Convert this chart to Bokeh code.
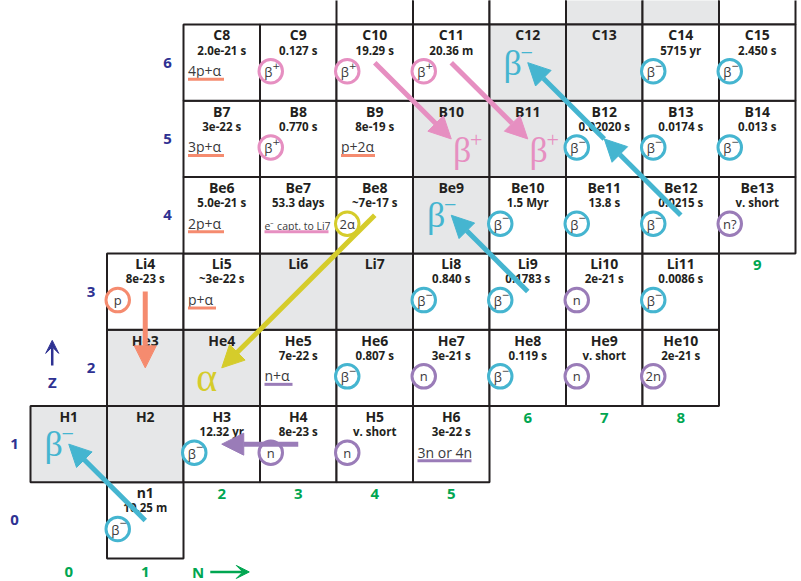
from bokeh.plotting import figure
from bokeh.models import Range1d, Arrow, NormalHead, VeeHead, ColumnDataSource
from bokeh.core.properties import value
from bokeh.embed import file_html
from bokeh.resources import INLINE

# ---------------- data ----------------
names = ["n1", "H1", "H2", "H3", "H4", "H5", "H6",
         "He3", "He4", "He5", "He6", "He7", "He8", "He9", "He10",
         "Li4", "Li5", "Li6", "Li7", "Li8", "Li9", "Li10", "Li11",
         "Be6", "Be7", "Be8", "Be9", "Be10", "Be11", "Be12", "Be13",
         "B7", "B8", "B9", "B10", "B11", "B12", "B13", "B14",
         "C8", "C9", "C10", "C11", "C12", "C13", "C14", "C15"]
neutrons = [1, 0, 1, 2, 3, 4, 5,
            1, 2, 3, 4, 5, 6, 7, 8,
            1, 2, 3, 4, 5, 6, 7, 8,
            2, 3, 4, 5, 6, 7, 8, 9,
            2, 3, 4, 5, 6, 7, 8, 9,
            2, 3, 4, 5, 6, 7, 8, 9]
protons = [0, 1, 1, 1, 1, 1, 1,
           2, 2, 2, 2, 2, 2, 2, 2,
           3, 3, 3, 3, 3, 3, 3, 3,
           4, 4, 4, 4, 4, 4, 4, 4,
           5, 5, 5, 5, 5, 5, 5, 5,
           6, 6, 6, 6, 6, 6, 6, 6]
half_lives = ["10.25 m", "", "", "12.32 yr", "8e-23 s", "v. short", "3e-22 s",
              "", "", "7e-22 s", "0.807 s", "3e-21 s", "0.119 s", "v. short", "2e-21 s",
              "8e-23 s", "~3e-22 s", "", "", "0.840 s", "0.1783 s", "2e-21 s", "0.0086 s",
              "5.0e-21 s", "53.3 days", "~7e-17 s", "", "1.5 Myr", "13.8 s", "0.0215 s", "v. short",
              "3e-22 s", "0.770 s", "8e-19 s", "", "", "0.02020 s", "0.0174 s", "0.013 s",
              "2.0e-21 s", "0.127 s", "19.29 s", "20.36 m", "", "", "5715 yr", "2.450 s"]
decays = ["β-", "", "", "β-", "n", "n", "3n or 4n",
          "", "", "n+α", "β-", "n", "β-", "n", "2n",
          "p", "p+α", "", "", "β-", "β-", "n", "β-",
          "2p+α", "e⁻ capt. to Li7", "2α", "", "β-", "β-", "β-", "n?",
          "3p+α", "β+", "p+2α", "", "", "β-", "β-", "β-",
          "4p+α", "β+", "β+", "β+", "", "", "β-", "β-"]
stable_names = ["H1", "H2", "He3", "He4", "Li6", "Li7", "Be9", "B10", "B11", "C12", "C13"]

# partly visible nitrogen row (Z = 7)
row7_names = ["N11", "N12", "N13", "N14", "N15", "N16"]
row7_neutrons = [4, 5, 6, 7, 8, 9]
row7_stable = ["N14", "N15"]

# decay arrows: parent -> daughter
arrow_from = ["n1", "H4", "Li4", "Be8", "Li9", "Be12", "B12", "C10", "C11"]
arrow_to = ["H1", "H3", "He3", "He4", "Be9", "B12", "C12", "B10", "B11"]
arrow_mode = ["β-", "n", "p", "α", "β-", "β-", "β-", "β+", "β+"]

# large decay symbols in stable daughters
big_at = ["H1", "He4", "Be9", "B10", "B11", "C12"]
big_mode = ["β-", "α", "β-", "β+", "β+", "β-"]

# axis labels
z_values = [0, 1, 2, 3, 4, 5, 6]
z_label_first_n = [0, 0, 1, 1, 2, 2, 2]
n_values = [0, 1, 2, 3, 4, 5, 6, 7, 8, 9]
n_label_lowest_z = [0, 0, 1, 1, 1, 1, 2, 2, 2, 4]

# ---------------- style ----------------
BLUE = "#45b5d0"
PINK = "#e68fc1"
SALMON = "#f58b6f"
PURPLE = "#9a7cb8"
YELLOW = "#d5cc2b"
GRAY = "#e6e7e8"
INK = "#231f20"
NAVY = "#2e3192"
GREEN = "#00a651"
FONT = "Open Sans"
SERIF = "Liberation Serif"

MODE_COLOR = {"β-": BLUE, "β+": PINK, "n": PURPLE, "2n": PURPLE, "n?": PURPLE,
              "p": SALMON, "2α": YELLOW, "α": YELLOW}
UL_COLOR = {"4p+α": SALMON, "3p+α": SALMON, "2p+α": SALMON, "p+2α": SALMON, "p+α": SALMON,
            "n+α": PURPLE, "3n or 4n": PURPLE, "e⁻ capt. to Li7": PINK}
UL_WIDTH = {"4p+α": 36, "3p+α": 36, "2p+α": 36, "p+2α": 34, "p+α": 28,
            "n+α": 28, "3n or 4n": 54, "e⁻ capt. to Li7": 64}
UL_FONT = {"e⁻ capt. to Li7": "10.5px"}
UL_DY = {"e⁻ capt. to Li7": 10.5}
BIG_OFF = {"β-": (-15, 0), "β+": (11, 11), "α": (-15, 10)}

W, H = 801, 581
UX, UY = 76.5, 76.3           # pixels per unit of N and Z
X0_PX, Y0_PX = 68.25, 519.95  # pixel position of (N=0, Z=0)
x_start = -X0_PX / UX
y_top = Y0_PX / UY

p = figure(width=W, height=H,
           x_range=Range1d(x_start, x_start + W / UX),
           y_range=Range1d(y_top - H / UY, y_top),
           x_axis_type=None, y_axis_type=None,
           toolbar_location=None, output_backend="svg",
           min_border=0, outline_line_color=None)
p.background_fill_color = "white"
p.border_fill_color = "white"

# ---- cells ----
p.rect(x=row7_neutrons, y=[7] * len(row7_neutrons), width=1, height=1,
       fill_color=[GRAY if nm in row7_stable else "white" for nm in row7_names],
       line_color=INK, line_width=2)
src = ColumnDataSource(dict(
    x=neutrons, y=protons, name=names, hl=half_lives,
    fill=[GRAY if nm in stable_names else "white" for nm in names]))
p.rect(x="x", y="y", width=1, height=1, fill_color="fill", line_color=INK,
       line_width=2, source=src)

p.text(x="x", y="y", text="name", source=src, y_offset=-27.8,
       text_align="center", text_baseline="middle",
       text_font=value(FONT), text_font_size="14px", text_font_style="bold",
       text_color=INK)
p.text(x="x", y="y", text="hl", source=src, y_offset=-12.6,
       text_align="center", text_baseline="middle",
       text_font=value(FONT), text_font_size="11.5px", text_font_style="bold",
       text_color=INK)

# ---- circled decay modes ----
cx, cy, ctxt, ccol, sx, sy, stxt = [], [], [], [], [], [], []
for n, z, d in zip(neutrons, protons, decays):
    if d in MODE_COLOR:
        cx.append(n - 27.5 / UX)
        cy.append(z - 8.5 / UY)
        ccol.append(MODE_COLOR[d])
        if d in ("β-", "β+"):
            ctxt.append("β")
            sx.append(n - 27.5 / UX)
            sy.append(z - 8.5 / UY)
            stxt.append("−" if d == "β-" else "+")
        else:
            ctxt.append(d)
p.scatter(x=cx, y=cy, marker="circle", size=23.5, fill_color="white",
          line_color=ccol, line_width=3)
beta_idx = [i for i, t in enumerate(ctxt) if t == "β"]
other_idx = [i for i, t in enumerate(ctxt) if t != "β"]
p.text(x=[cx[i] for i in beta_idx], y=[cy[i] for i in beta_idx], text=["β"] * len(beta_idx),
       x_offset=-2.5, y_offset=1, text_align="center", text_baseline="middle",
       text_font=value(FONT), text_font_size="13px", text_color="#3a3a3c")
p.text(x=sx, y=sy, text=stxt, x_offset=5.5, y_offset=-6, text_align="center",
       text_baseline="middle", text_font=value("DejaVu Sans"), text_font_size="9.5px",
       text_color="#3a3a3c")
p.text(x=[cx[i] for i in other_idx], y=[cy[i] for i in other_idx],
       text=[ctxt[i] for i in other_idx], text_align="center", text_baseline="middle",
       text_font=value(FONT), text_font_size="13px", text_color="#3a3a3c")

# ---- underlined decay descriptions ----
ux, uy, utxt, ucol, ufs, udy, rx, rw = [], [], [], [], [], [], [], []
for n, z, d in zip(neutrons, protons, decays):
    if d in UL_COLOR:
        ux.append(n - 0.5)
        uy.append(z)
        utxt.append(d)
        ucol.append(UL_COLOR[d])
        ufs.append(UL_FONT.get(d, "14px"))
        udy.append(UL_DY.get(d, 8.0))
        rx.append(n - 0.5 + (4.5 + UL_WIDTH[d] / 2) / UX)
        rw.append(UL_WIDTH[d])
p.text(x=ux, y=uy, text=utxt, x_offset=4.5, y_offset=udy, text_align="left",
       text_baseline="middle", text_font=value(FONT), text_font_size=ufs,
       text_color="#3a3a3c")
p.rect(x=rx, y=[z - 16.5 / UY for z in uy], width=rw, height=3,
       width_units="screen", height_units="screen", fill_color=ucol, line_color=None)

# ---- large symbols in stable daughters ----
pos = {nm: (n, z) for nm, n, z in zip(names, neutrons, protons)}
for nm, m in zip(big_at, big_mode):
    n, z = pos[nm]
    ox, oy = BIG_OFF[m]
    c = MODE_COLOR[m]
    glyph = "β" if m in ("β-", "β+") else "α"
    p.text(x=[n], y=[z], text=[glyph], x_offset=ox, y_offset=oy,
           text_align="center", text_baseline="middle", text_font=value(SERIF),
           text_font_size="36px" if glyph == "β" else "40px", text_color=c)
    if glyph == "β":
        p.text(x=[n], y=[z], text=["−" if m == "β-" else "+"],
               x_offset=ox + 14, y_offset=oy - 10, text_align="center",
               text_baseline="middle", text_font=value(SERIF),
               text_font_size="22px", text_color=c)

# ---- axis numbers ----
p.text(x=[fn - 0.5 for fn in z_label_first_n], y=z_values, text=[str(z) for z in z_values],
       x_offset=-16, text_align="center", text_baseline="middle",
       text_font=value(FONT), text_font_size="15px", text_font_style="bold",
       text_color=NAVY)
p.text(x=n_values, y=[lz - 0.5 for lz in n_label_lowest_z], text=[str(n) for n in n_values],
       y_offset=[13 if lz == 0 else 12 for lz in n_label_lowest_z],
       text_align="center", text_baseline="middle",
       text_font=value(FONT), text_font_size="15px", text_font_style="bold",
       text_color=GREEN)

# ---- Z and N direction markers ----
p.text(x=[-0.216], y=[1.812], text=["Z"], text_align="center", text_baseline="middle",
       text_font=value(FONT), text_font_size="15px", text_font_style="bold", text_color=NAVY)
p.add_layout(Arrow(x_start=-0.216, y_start=2.03, x_end=-0.216, y_end=2.36,
                   line_color=NAVY, line_width=2.5,
                   end=VeeHead(size=13, fill_color=NAVY, line_color=NAVY)))
p.text(x=[1.692], y=[-0.675], text=["N"], text_align="center", text_baseline="middle",
       text_font=value(FONT), text_font_size="15px", text_font_style="bold", text_color=GREEN)
p.add_layout(Arrow(x_start=1.85, y_start=-0.675, x_end=2.36, y_end=-0.675,
                   line_color=GREEN, line_width=2.5,
                   end=VeeHead(size=13, fill_color=GREEN, line_color=GREEN)))

# ---- decay arrows ----
for a, b, m in zip(arrow_from, arrow_to, arrow_mode):
    c = MODE_COLOR[m]
    (x0, y0), (x1, y1) = pos[a], pos[b]
    p.add_layout(Arrow(x_start=x0, y_start=y0, x_end=x1, y_end=y1,
                       line_color=c, line_width=5,
                       end=NormalHead(size=22, fill_color=c, line_color=c, line_width=1)))

open("out.html", "w").write(file_html(p, INLINE))
